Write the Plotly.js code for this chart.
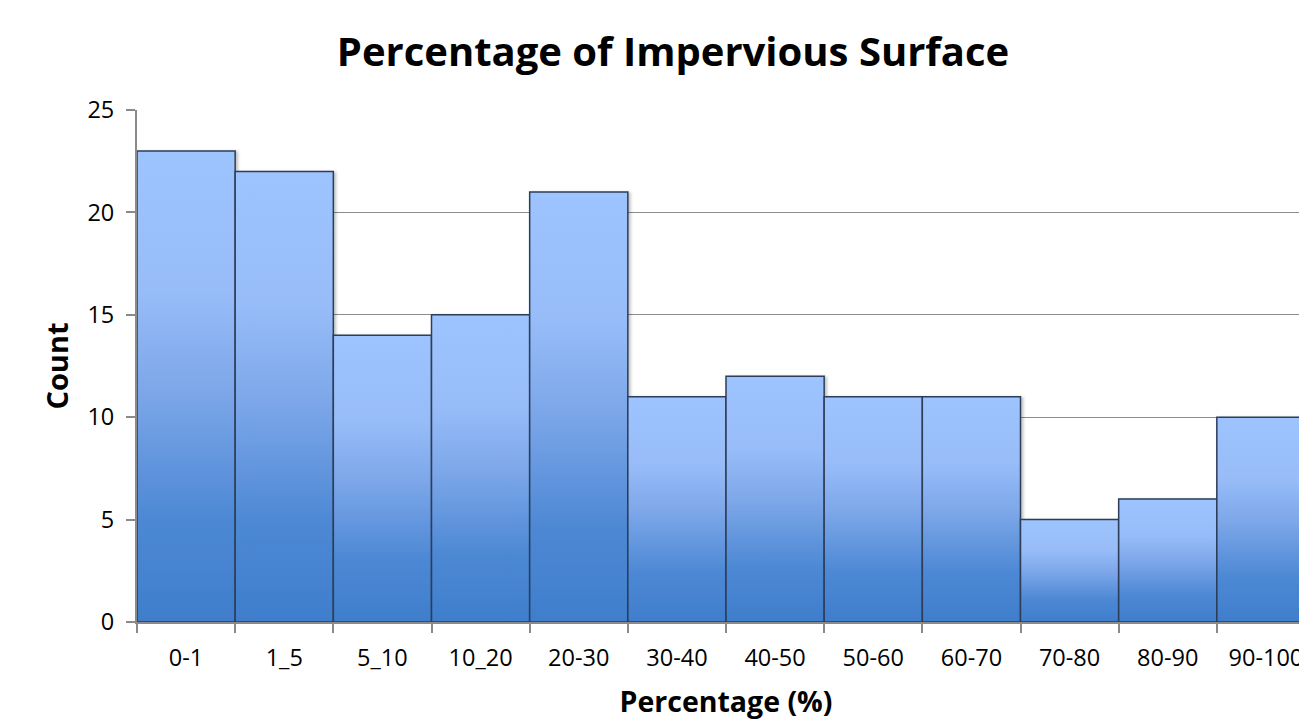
<!DOCTYPE html>
<html>
<head>
<meta charset="utf-8">
<script src="https://cdn.plot.ly/plotly-3.0.1.min.js"></script>
<style>
  html, body { margin: 0; padding: 0; background: #ffffff; overflow: hidden; width: 1299px; height: 720px; }
  #chart { width: 1346px; height: 720px; }
</style>
</head>
<body>
<div id="chart"></div>
<script>
// Impervious surface histogram: count of areas per percentage class
const categories = ['0-1', '1_5', '5_10', '10_20', '20-30', '30-40', '40-50', '50-60', '60-70', '70-80', '80-90', '90-100'];
const counts = [23, 22, 14, 15, 21, 11, 12, 11, 11, 5, 6, 10];
const yTicks = [0, 5, 10, 15, 20, 25];

const FONT = '"Open Sans", "Liberation Sans", sans-serif';
const AXIS_GRAY = '#8a8a8a';

const trace = {
  type: 'bar',
  x: categories,
  y: counts,
  marker: {
    color: '#7ea8ea',
    line: { color: '#2e3d58', width: 1.5 }
  },
  hoverinfo: 'x+y'
};

const layout = {
  width: 1346,
  height: 720,
  margin: { l: 137, r: 31, t: 110, b: 98 },
  paper_bgcolor: '#ffffff',
  plot_bgcolor: '#ffffff',
  bargap: 0,
  showlegend: false,
  font: { family: FONT, color: '#000000', size: 16 },
  title: {
    text: '<b>Percentage of Impervious Surface</b>',
    font: { family: FONT, size: 40, color: '#000000' },
    x: 0.5, xanchor: 'center',
    y: 0.928, yanchor: 'middle'
  },
  xaxis: {
    type: 'category',
    categoryorder: 'array',
    categoryarray: categories,
    showline: true,
    linecolor: AXIS_GRAY,
    linewidth: 2,
    ticks: 'outside',
    tickson: 'boundaries',
    ticklen: 9,
    tickwidth: 2,
    tickcolor: AXIS_GRAY,
    showgrid: false,
    tickfont: { family: FONT, size: 23.5, color: '#000000' },
    ticklabelstandoff: 14,
    title: {
      text: '<b>Percentage (%)</b>',
      font: { family: FONT, size: 28.5, color: '#000000' },
      standoff: 20
    }
  },
  yaxis: {
    range: [0, 25],
    tickvals: yTicks,
    showline: true,
    linecolor: AXIS_GRAY,
    linewidth: 2,
    ticks: 'outside',
    ticklen: 9,
    tickwidth: 2,
    tickcolor: AXIS_GRAY,
    showgrid: true,
    gridcolor: '#8c8c8c',
    gridwidth: 1.2,
    zeroline: false,
    tickfont: { family: FONT, size: 23.5, color: '#000000' },
    ticklabelstandoff: 7,
    title: {
      text: '<b>Count</b>',
      font: { family: FONT, size: 29, color: '#000000' },
      standoff: 10
    }
  }
};

Plotly.newPlot('chart', [trace], layout, { displayModeBar: false, staticPlot: true }).then(function (gd) {
  // vertical blue gradient and soft shadow applied to every bar
  const svgNS = 'http://www.w3.org/2000/svg';
  const svg = gd.querySelector('svg.main-svg');
  const defs = document.createElementNS(svgNS, 'defs');
  defs.innerHTML =
    '<linearGradient id="barFill" x1="0" y1="0" x2="0" y2="1">' +
      '<stop offset="0" stop-color="#9ec4ff"/>' +
      '<stop offset="0.3" stop-color="#97bcf8"/>' +
      '<stop offset="0.5" stop-color="#7ea8ea"/>' +
      '<stop offset="0.78" stop-color="#4d88d4"/>' +
      '<stop offset="1" stop-color="#3f7ecc"/>' +
    '</linearGradient>' +
    '<filter id="barShadow" x="-10%" y="-10%" width="130%" height="130%">' +
      '<feDropShadow dx="2" dy="1" stdDeviation="1.5" flood-color="#000000" flood-opacity="0.25"/>' +
    '</filter>';
  svg.insertBefore(defs, svg.firstChild);
  gd.querySelectorAll('.barlayer .point path').forEach(function (p) {
    p.style.fill = 'url(#barFill)';
    p.setAttribute('filter', 'url(#barShadow)');
  });
});
</script>
</body>
</html>
